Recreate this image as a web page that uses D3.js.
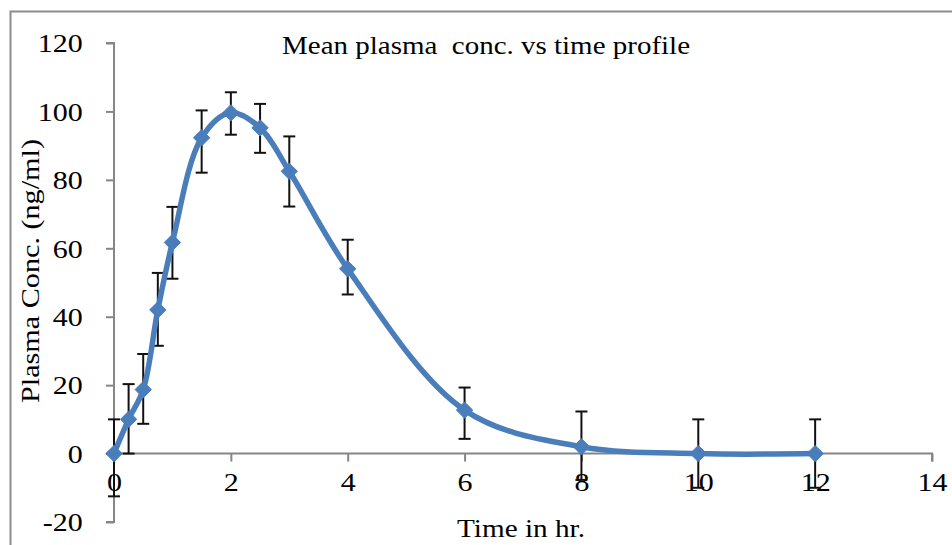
<!DOCTYPE html>
<html>
<head>
<meta charset="utf-8">
<script src="https://cdn.jsdelivr.net/npm/d3@7"></script>
<style>
body{margin:0;background:#fff;}
svg text{font-family:"Liberation Serif","Times New Roman",serif;fill:#000;}
</style>
</head>
<body>
<div id="chart"></div>
<script>
// time points (hr), mean conc (ng/ml), error bars
var times = [0, 0.25, 0.5, 0.75, 1, 1.5, 2, 2.5, 3, 4, 6, 8, 10, 12];
var conc  = [0, 10, 18.7, 42, 61.7, 92.3, 99.6, 95.2, 82.5, 54, 12.7, 2, 0, 0];
var errUp = [10, 10.3, 10.4, 10.8, 10.4, 8, 6, 7, 10.2, 8.5, 6.6, 10.3, 10, 10];
var errDn = [12.5, 10, 10, 10.5, 10.6, 10.2, 6.4, 7.3, 10.3, 7.5, 8.4, 9.7, 10, 10];
var xTicks = [0, 2, 4, 6, 8, 10, 12, 14];
var yTicks = [-20, 0, 20, 40, 60, 80, 100, 120];

var W = 952, H = 545;
var svg = d3.select("#chart").append("svg").attr("width", W).attr("height", H);

// chart border (cut off right/bottom like the picture)
svg.append("rect")
    .attr("x", 10.5).attr("y", 11.5)
    .attr("width", 980).attr("height", 600)
    .style("fill", "none").style("stroke", "#8c8c8c").style("stroke-width", "2px");

var x = d3.scaleLinear().domain([0, 14]).range([114, 932]);
var y = d3.scaleLinear().domain([-20, 120]).range([522, 43]);

// y axis
var yAxis = svg.append("g")
    .attr("transform", "translate(" + x(0) + ",0)")
    .call(d3.axisLeft(y).tickValues(yTicks).tickSize(8).tickPadding(13));
yAxis.selectAll("text")
    .style("font-size", "25px")
    .attr("dy", "0.35em")
    .attr("x", -26)
    .attr("transform", "scale(1.2,1)")
    .text(function(d){ return d < 0 ? "-" + Math.abs(d) : d; });

// x axis, sits on y = 0
var xAxis = svg.append("g")
    .attr("transform", "translate(0," + y(0) + ")")
    .call(d3.axisBottom(x).tickValues(xTicks).tickSize(8).tickPadding(12));
xAxis.selectAll("text")
    .style("font-size", "25px")
    .attr("transform", "scale(1.2,1)");

svg.selectAll(".domain, .tick line").style("stroke", "#868686").style("stroke-width", "2px");
xAxis.select(".domain").attr("d", "M" + x(0) + ",0H" + x(14) + "V8");
yAxis.select(".domain").attr("d", "M-8," + y(-20) + "H0V" + y(120) + "H-8");

// error bars
var eb = svg.append("g");
for (var i = 0; i < times.length; i++) {
    var cx = x(times[i]);
    var yHi = y(conc[i] + errUp[i]);
    var yLo = y(conc[i] - errDn[i]);
    eb.append("line").attr("x1", cx).attr("x2", cx).attr("y1", yHi).attr("y2", yLo)
        .style("stroke", "#111").style("stroke-width", "2px");
    eb.append("line").attr("x1", cx - 6).attr("x2", cx + 6).attr("y1", yHi).attr("y2", yHi)
        .style("stroke", "#111").style("stroke-width", "2px");
    eb.append("line").attr("x1", cx - 6).attr("x2", cx + 6).attr("y1", yLo).attr("y2", yLo)
        .style("stroke", "#111").style("stroke-width", "2px");
}

// smoothed line
var pts = times.map(function(t, i){ return [t, conc[i]]; });
var line = d3.line()
    .x(function(d){ return x(d[0]); })
    .y(function(d){ return y(d[1]); })
    .curve(d3.curveCatmullRom.alpha(0.5));
svg.append("path")
    .datum(pts)
    .attr("d", line)
    .style("fill", "none")
    .style("stroke", "#4a7ebb")
    .style("stroke-width", "5.5px");

// diamond markers
svg.selectAll(".mk")
    .data(pts)
    .enter()
    .append("path")
    .attr("class", "mk")
    .attr("d", d3.symbol().type(d3.symbolDiamond2).size(170))
    .attr("transform", function(d){ return "translate(" + x(d[0]) + "," + y(d[1]) + ")"; })
    .style("fill", "#4a7ebb")
    .style("stroke", "#4a7ebb")
    .style("stroke-width", "1px");

// title and axis titles
svg.append("text")
    .attr("x", 486).attr("y", 54)
    .attr("text-anchor", "middle")
    .attr("textLength", 408)
    .attr("lengthAdjust", "spacingAndGlyphs")
    .style("font-size", "25px")
    .style("white-space", "pre")
    .text("Mean plasma  conc. vs time profile");

svg.append("text")
    .attr("x", 521).attr("y", 537)
    .attr("text-anchor", "middle")
    .attr("textLength", 128)
    .attr("lengthAdjust", "spacingAndGlyphs")
    .style("font-size", "26px")
    .text("Time in hr.");

svg.append("text")
    .attr("transform", "translate(39,271) rotate(-90)")
    .attr("text-anchor", "middle")
    .attr("textLength", 264)
    .attr("lengthAdjust", "spacingAndGlyphs")
    .style("font-size", "25px")
    .text("Plasma Conc. (ng/ml)");
</script>
</body>
</html>
